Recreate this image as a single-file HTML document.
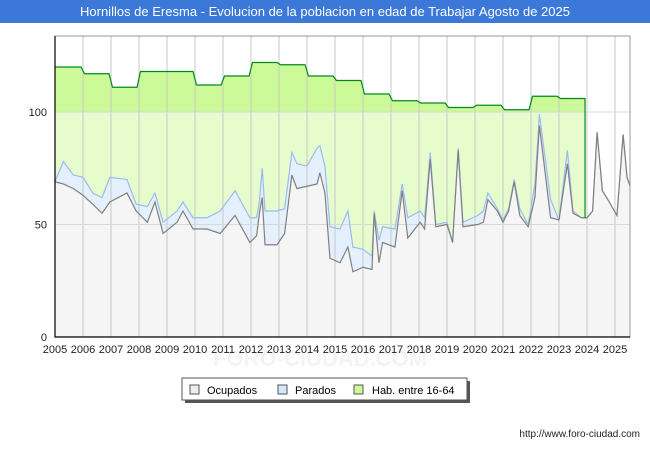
<!DOCTYPE html>
<html><head><meta charset="utf-8"><style>
body{margin:0;width:650px;height:450px;background:#fff;overflow:hidden;font-family:"Liberation Sans",sans-serif}
</style></head><body>
<svg width="650" height="450" xmlns="http://www.w3.org/2000/svg">
<defs>
<linearGradient id="habg" gradientUnits="userSpaceOnUse" x1="0" y1="0" x2="0" y2="337">
<stop offset="0" stop-color="#ccfa99"/><stop offset="0.3323" stop-color="#ccfa99"/><stop offset="0.3323" stop-color="#e6fccc"/><stop offset="1" stop-color="#e6fccc"/>
</linearGradient>
</defs>
<rect x="0" y="0" width="650" height="23" fill="#3b78d8"/>
<text x="325" y="16" text-anchor="middle" fill="#fff" font-size="13">Hornillos de Eresma - Evolucion de la poblacion en edad de Trabajar Agosto de 2025</text>
<text x="320" y="366" text-anchor="middle" fill="#f4f4f4" font-size="22" font-weight="bold">FORO-CIUDAD.COM</text>
<g id="plot"></g>
<g>
<rect x="185" y="381" width="285" height="22" fill="#555"/>
<rect x="182" y="378" width="285" height="22" fill="#fff" stroke="#555"/>
<rect x="190" y="385" width="9" height="9" fill="#eee" stroke="#555"/>
<text x="207" y="394" font-size="11">Ocupados</text>
<rect x="278" y="385" width="9" height="9" fill="#d6e8fc" stroke="#555"/>
<text x="295" y="394" font-size="11">Parados</text>
<rect x="354" y="385" width="9" height="9" fill="#ccfa99" stroke="#555"/>
<text x="372" y="394" font-size="11">Hab. entre 16-64</text>
</g>
<text x="640" y="437" text-anchor="end" font-size="10" fill="#222">http://www.foro-ciudad.com</text>
</svg>
<script>
const years=[2005,2006,2007,2008,2009,2010,2011,2012,2013,2014,2015,2016,2017,2018,2019,2020,2021,2022,2023];
const habValues=[120,117,111,118,118,112,116,122,121,116,114,108,105,104,102,103,101,107,106];
const times=[2005,2005.3,2005.65,2006,2006.35,2006.68,2006.96,2007.57,2007.9,2008.3,2008.57,2008.86,2009.36,2009.57,2009.93,2010.43,2010.9,2011.43,2011.96,2012.2,2012.3,2012.4,2012.5,2012.93,2013.2,2013.46,2013.64,2014,2014.36,2014.46,2014.64,2014.82,2015.18,2015.46,2015.64,2016,2016.32,2016.4,2016.57,2016.7,2017.14,2017.4,2017.6,2018.04,2018.2,2018.4,2018.6,2019,2019.2,2019.4,2019.57,2020.1,2020.3,2020.46,2020.8,2021,2021.2,2021.4,2021.6,2021.9,2022.14,2022.3,2022.7,2023,2023.3,2023.5,2023.8,2024,2024.2,2024.36,2024.55,2024.75,2025.07,2025.29,2025.43,2025.54];
const ocupados=[69,68,66,63,59,55,60,64,56,51,60,46,51,56,48,48,46,54,42,45,55,62,41,41,46,72,66,67,68,73,64,35,33,40,29,31,30,55,33,42,40,65,44,51,48,79,49,50,42,83,49,50,51,61,56,51,56,69,54,49,62,94,53,52,77,55,53,53,56,91,65,61,54,90,71,67];
const parados=[0,10,6,8,5,7,11,6,3,7,4,5,5,4,5,5,10,11,11,8,5,13,15,15,11,10,11,9,16,12,12,14,15,16,11,8,6,1,10,7,8,3,9,5,5,3,1,1,0,1,2,4,5,3,1,1,1,1,3,1,6,5,8,0,6,1,0,0,0,0,0,0,0,0,0,0];
const yearTicks=[2005,2006,2007,2008,2009,2010,2011,2012,2013,2014,2015,2016,2017,2018,2019,2020,2021,2022,2023,2024,2025];
const yTicks=[0,50,100];
const X0=55,X1=630,Y0=337,Y1=36;
const xs=t=>X0+(t-2005)*28;
const ys=v=>Y0-v*2.25;
const NS="http://www.w3.org/2000/svg";
const g=document.getElementById('plot');
function mk(tag,attrs){const e=document.createElementNS(NS,tag);for(const k in attrs)e.setAttribute(k,attrs[k]);g.appendChild(e);return e;}
let bg=mk('rect',{x:X0,y:Y1,width:X1-X0,height:Y0-Y1,fill:'#fff'});


let hp=[];
years.forEach((y,i)=>{const x0=xs(y)+(i?1.5:0),x1=xs(y+0.93);hp.push([x0,ys(habValues[i])],[x1,ys(habValues[i])]);});
const habEnd=xs(2023.93);
let habD='M'+X0+','+Y0+' '+hp.map(p=>'L'+p[0]+','+p[1]).join(' ')+' L'+habEnd+','+Y0+'Z';
let ha=mk('path',{d:habD,fill:'url(#habg)'});


const tot=ocupados.map((v,i)=>v+parados[i]);
let tD='M'+X0+','+Y0+' '+times.map((t,i)=>'L'+xs(t)+','+ys(tot[i])).join(' ')+' L'+X1+','+Y0+'Z';
let ta=mk('path',{d:tD,fill:'#e4f0fd'});


let oD='M'+X0+','+Y0+' '+times.map((t,i)=>'L'+xs(t)+','+ys(ocupados[i])).join(' ')+' L'+X1+','+Y0+'Z';
let oa=mk('path',{d:oD,fill:'#f5f5f5'});


yearTicks.forEach(y=>{
 if(y>2005){let l=mk('line',{x1:xs(y),x2:xs(y),y1:Y1,y2:Y0,stroke:'#c8c8c8','stroke-width':1});
 
 }
 let t=mk('text',{x:xs(y),y:Y0+16,'text-anchor':'middle','font-size':11,fill:'#222'});
 t.textContent=y;
 
 
});
yTicks.forEach(v=>{
 if(v>0){let l=mk('line',{x1:X0,x2:X1,y1:ys(v),y2:ys(v),stroke:'#d8d8d8','stroke-width':1});
 
 }
 let t=mk('text',{x:X0-8,y:ys(v)+4,'text-anchor':'end','font-size':11,fill:'#222'});
 t.textContent=v;
 
 
});
let tl=mk('polyline',{points:times.map((t,i)=>xs(t)+','+ys(tot[i])).join(' '),fill:'none',stroke:'#9bbcf0','stroke-width':1.2});


let ol=mk('polyline',{points:times.map((t,i)=>xs(t)+','+ys(ocupados[i])).join(' '),fill:'none',stroke:'#808080','stroke-width':1.2});


let hl=mk('polyline',{points:hp.map(p=>p.join(',')).join(' ')+' '+habEnd+','+ys(53),fill:'none',stroke:'#008a1c','stroke-width':1.2});


let fr=mk('rect',{x:X0,y:Y1,width:X1-X0,height:Y0-Y1,fill:'none',stroke:'#999'});


let ax=mk('path',{d:`M${X0},${Y1} L${X0},${Y0} L${X1},${Y0}`,fill:'none',stroke:'#000','stroke-width':1.2});


</script>
</body></html>
